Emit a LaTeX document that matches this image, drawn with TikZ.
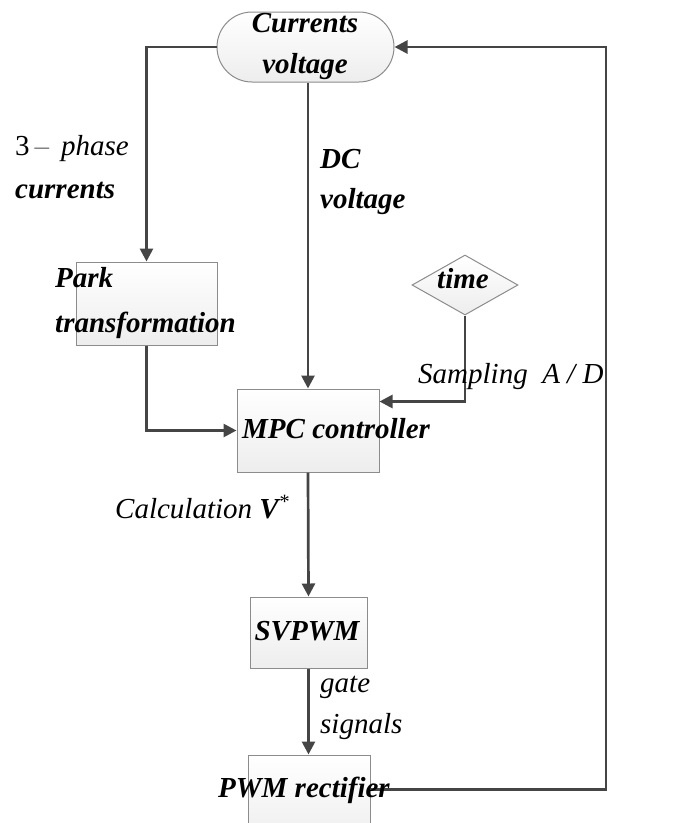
\documentclass[tikz,border=0pt]{standalone}
\usepackage{fontspec}
\setmainfont{Liberation Serif}
\usetikzlibrary{arrows.meta,shapes.geometric,calc}
\definecolor{linegray}{HTML}{454545}
\definecolor{edgegray}{HTML}{8C8C8C}
\tikzset{
  blockbox/.style={draw=edgegray, line width=1pt, top color=white, bottom color=gray!14, inner sep=0pt},
  termbox/.style={blockbox, rounded corners=35pt, minimum width=177pt, minimum height=70pt},
  decisionbox/.style={blockbox, diamond, shape aspect=1.77, minimum width=106pt, minimum height=60pt},
  flow/.style={draw=linegray, line width=2.7pt, -{Triangle[length=13pt,width=13pt]}},
  ntext/.style={font=\fontsize{29}{41}\selectfont\bfseries\itshape, inner sep=0pt},
  ltext/.style={font=\fontsize{29}{41}\selectfont\itshape, inner sep=0pt}
}
\begin{document}
\begin{tikzpicture}[x=1pt,y=-1pt]
  \useasboundingbox (0,0) rectangle (692,823);
  \clip (0,0) rectangle (692,823);

  % blocks
  \node[termbox] (cv) at (305.5,47) {};
  \node[blockbox, minimum width=141pt, minimum height=83pt] (park) at (146.5,303.5) {};
  \node[blockbox, minimum width=142pt, minimum height=83pt] (mpc) at (308,430.5) {};
  \node[decisionbox] (time) at (465,285) {};
  \node[blockbox, minimum width=117pt, minimum height=71pt] (svpwm) at (308.5,632.5) {};
  \node[blockbox, minimum width=122pt, minimum height=90pt] (pwm) at (309,800) {};
  \coordinate (fb) at (606,47);

  % connectors
  \draw[flow] (cv.west) -| (park.north);
  \draw[flow] (cv.south -| mpc.north) -- (mpc.north);
  \draw[flow] (park.south) |- (mpc.west);
  \draw[flow] (time.south) |- ($(mpc.north east)+(0,13)$);
  \draw[flow] (mpc.south) -- (svpwm.north);
  \draw[flow] (svpwm.south) -- (svpwm.south |- pwm.north);
  \draw[flow] ($(pwm.north east)+(0,35)$) -| (fb) -- (cv.east);

  % block texts (base anchor of a multi-line node is its last line)
  \node[ntext, align=center, anchor=base] (cvtext) at (305,73) {Currents\\voltage};
  \node[ntext, align=left, anchor=base west, font=\fontsize{29}{45}\selectfont\bfseries\itshape] (parktext) at (55,332) {Park\\transformation};
  \node[ntext, anchor=base west] (mpctext) at (242,438) {MPC controller};
  \node[ntext, anchor=base] (timetext) at (463,288) {time};
  \node[ntext, anchor=base] (svpwmtext) at (307,640) {SVPWM};
  \node[ntext, anchor=base west] (pwmtext) at (218,797) {PWM rectifier};

  % connector labels
  \node[ltext, align=left, anchor=base west, font=\fontsize{29}{43}\selectfont\itshape] (phaselabel) at (15,198)
    {{\upshape 3}\,{\color{gray}--}\, phase\\{\bfseries currents}};
  \node[ltext, align=left, anchor=base west, font=\fontsize{29}{40}\selectfont\bfseries\itshape] (dclabel) at (320,208) {DC\\voltage};
  \node[ltext, anchor=base west] (calclabel) at (115,518) {Calculation {\bfseries V}\textsuperscript{*}};
  \node[ltext, anchor=base west] (samplabel) at (418,383) {Sampling\ \ A / D};
  \node[ltext, align=left, anchor=base west] (gatelabel) at (320,733) {gate\\signals};
\end{tikzpicture}
\end{document}
